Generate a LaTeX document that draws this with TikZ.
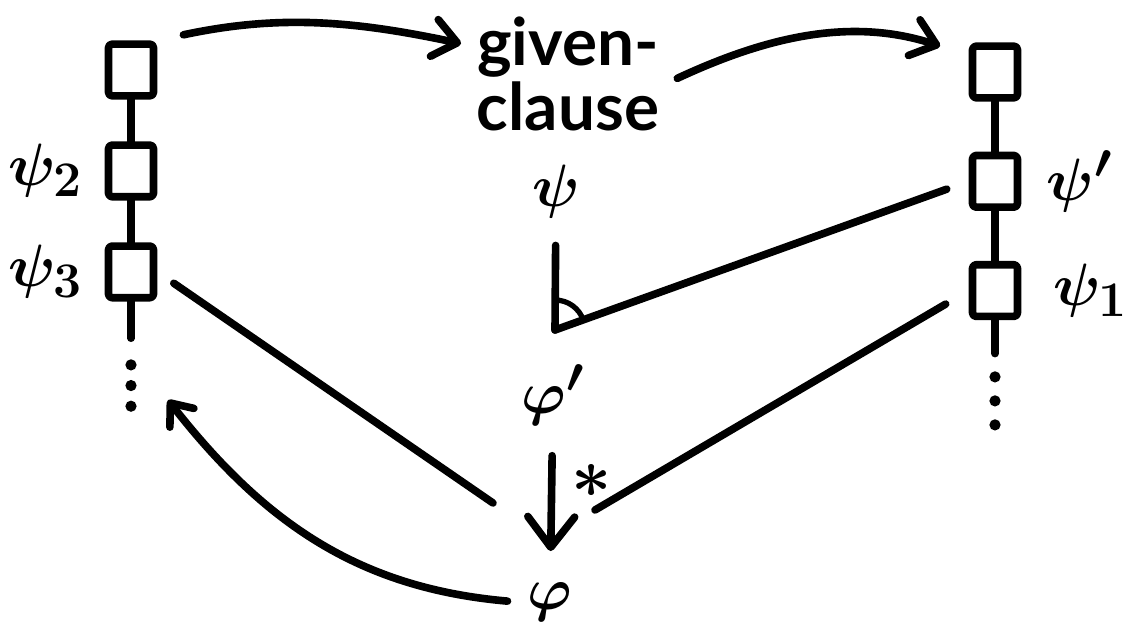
\documentclass[tikz,border=0pt]{standalone}
\usepackage{fontspec}
\newfontfamily\handfont{Lato}
\usepackage{tikz}
\usetikzlibrary{positioning, arrows.meta, angles}

\begin{document}
\begin{tikzpicture}[x=0.03cm, y=-0.03cm, node distance=1.25cm,
    line width=6.5pt, line cap=round, line join=round,
    cell/.style={draw, rectangle, rounded corners=3pt, minimum width=1.35cm,
                 minimum height=1.55cm, inner sep=0pt},
    lab/.style={font=\Huge\boldmath, scale=2.05, inner sep=1pt},
    word/.style={font=\handfont\bfseries\fontsize{56}{56}\selectfont, align=center, inner sep=2pt},
    bigtip/.style={-{Straight Barb[length=20pt, width=32pt, round]}}]
  \useasboundingbox (0,0) rectangle (1134,644);

  % left chain
  \node[cell] (l1) at (131,70) {};
  \node[cell, below=of l1] (l2) {};
  \node[cell, below=of l2] (l3) {};
  \coordinate[below=1.1cm of l3.south] (lt);
  \draw (l1) -- (l2) -- (l3) -- (lt);
  \foreach \k in {0,1,2}
    \fill ([yshift=-0.8cm-\k*0.62cm]lt) circle (4.8pt);
  \node[lab, left=0.35cm of l2] (psi2) {$\psi_2$};
  \node[lab, left=0.35cm of l3] (psi3) {$\psi_3$};

  % right chain
  \node[cell] (r1) at (995,72) {};
  \node[cell, below=1.5cm of r1] (r2) {};
  \node[cell, below=1.5cm of r2] (r3) {};
  \coordinate[below=1.0cm of r3.south] (rt);
  \draw (r1) -- (r2) -- (r3) -- (rt);
  \foreach \k in {0,1,2}
    \fill ([yshift=-0.7cm-\k*0.72cm]rt) circle (4.8pt);
  \node[lab, right=0.45cm of r2] (psip) {$\psi'$};
  \node[lab, right=0.65cm of r3] (psi1) {$\psi_1$};

  % middle column
  \node[word] (given) at (568,74) {given-\\clause};
  \node[lab] (psi) at (556,192) {$\psi$};
  \coordinate (join) at (555,330);
  \node[lab] (phip) at (553,395) {$\varphi'$};
  \node[lab] (phi) at (550,602) {$\varphi$};
  \coordinate (jl) at (493,503);
  \coordinate (jr) at (595,510);
  \coordinate (back) at (168,400);

  % connectors
  \draw[bigtip, shorten <=0.8cm, shorten >=0.3cm]
    (l1.north east) to[out=12, in=168] ([yshift=0.85cm]given.west);
  \draw[bigtip, shorten <=0.4cm, shorten >=0.9cm]
    ([yshift=-0.3cm]given.east) to[out=25, in=162] ([yshift=0.5cm]r1.west);
  \draw[shorten <=0.5cm] (psi) -- (join);
  \draw[shorten <=0.7cm] (r2.west) -- (join);
  \pic[draw, line width=4.5pt, angle radius=0.9cm] {angle=r2--join--psi};
  \draw[-{Straight Barb[length=26pt, width=40pt, round]}, shorten <=0.6cm, shorten >=0.65cm]
    (phip) -- (phi) node[pos=0.33, right=1pt, font=\Huge\boldmath, scale=2.4] (star) {$*$};
  \draw[shorten <=0.6cm] (l3.east) -- (jl);
  \draw[shorten <=0.8cm] (r3.west) -- (jr);
  \draw[-{Straight Barb[length=16pt, width=26pt, round]}, shorten <=0.3cm]
    (phi.west) to[out=175, in=-52] (back);
\end{tikzpicture}
\end{document}
